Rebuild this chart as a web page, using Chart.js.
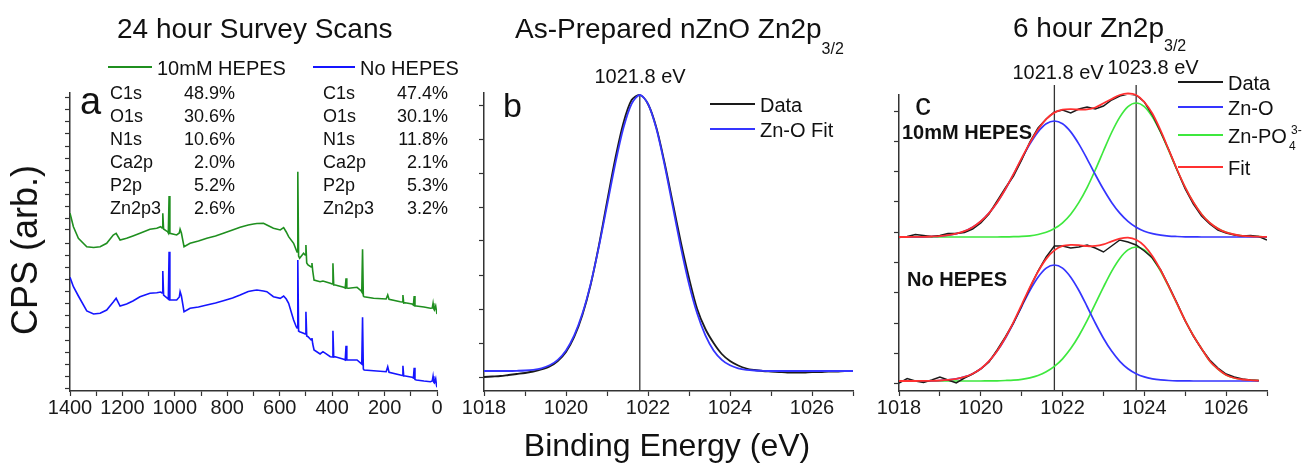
<!DOCTYPE html>
<html>
<head>
<meta charset="utf-8">
<script src="https://cdn.jsdelivr.net/npm/chart.js@4.4.1/dist/chart.umd.min.js"></script>
<style>
  body { margin: 0; background: #fff; font-family: "Liberation Sans", Arial, sans-serif; color: #111; }
  #wrap { position: relative; width: 1304px; height: 469px; overflow: hidden; }
  canvas { position: absolute; left: 0; top: 0; }
  .t { position: absolute; white-space: nowrap; line-height: 1; transform: translateY(-50%); }
  .c { transform: translate(-50%, -50%); }
  .r { transform: translate(-100%, -50%); }
  .title { font-size: 28px; }
  .leg { font-size: 20px; }
  .tab { font-size: 18px; }
  .sw { position: absolute; height: 2px; margin-top: -1px; }
  .b { font-weight: bold; }
</style>
</head>
<body>
<div id="wrap">
  <canvas id="chartA" width="1304" height="469"></canvas>
  <canvas id="chartB" width="1304" height="469"></canvas>
  <canvas id="chartC" width="1304" height="469"></canvas>

  <!-- titles -->
  <div class="t title" style="left:117px;top:29px">24 hour Survey Scans</div>
  <div class="t title" style="left:515px;top:29px">As-Prepared nZnO Zn2p<span style="font-size:16px;position:relative;top:16px">3/2</span></div>
  <div class="t title" style="left:1013px;top:28px">6 hour Zn2p<span style="font-size:16px;position:relative;top:14px">3/2</span></div>

  <!-- axis titles -->
  <div class="t" style="left:25px;top:250px;font-size:36px;transform:translate(-50%,-50%) rotate(-90deg)">CPS (arb.)</div>
  <div class="t c" style="left:667px;top:445px;font-size:32px">Binding Energy (eV)</div>

  <!-- panel a legend + table -->
  <div class="sw" style="left:108px;top:67px;width:44px;background:#1f8f1f"></div>
  <div class="t leg" style="left:157px;top:68px">10mM HEPES</div>
  <div class="sw" style="left:313px;top:67px;width:42px;background:#1515ff"></div>
  <div class="t leg" style="left:360px;top:68px">No HEPES</div>
  <div id="tableA"></div>
  <div class="t" style="left:80px;top:82px;font-size:38px;transform:none">a</div>

  <!-- panel b annotations -->
  <div class="t" style="left:503px;top:88px;font-size:34px;transform:none">b</div>
  <div class="t leg c" style="left:640px;top:76px">1021.8 eV</div>
  <div class="sw" style="left:710px;top:104px;width:45px;background:#1a1a1a"></div>
  <div class="t leg" style="left:760px;top:105px">Data</div>
  <div class="sw" style="left:710px;top:129px;width:45px;background:#3535ff"></div>
  <div class="t leg" style="left:760px;top:130px">Zn-O Fit</div>

  <!-- panel c annotations -->
  <div class="t" style="left:915px;top:88px;font-size:32px;transform:none">c</div>
  <div class="t leg c" style="left:1058px;top:72px">1021.8 eV</div>
  <div class="t leg c" style="left:1153px;top:67px">1023.8 eV</div>
  <div class="t leg b" style="left:902px;top:132px">10mM HEPES</div>
  <div class="t leg b" style="left:907px;top:279px">No HEPES</div>
  <div class="sw" style="left:1178px;top:82px;width:45px;background:#1a1a1a"></div>
  <div class="t leg" style="left:1228px;top:83px">Data</div>
  <div class="sw" style="left:1178px;top:107px;width:45px;background:#3535ff"></div>
  <div class="t leg" style="left:1228px;top:108px">Zn-O</div>
  <div class="sw" style="left:1178px;top:135px;width:45px;background:#3ee83e"></div>
  <div class="t leg" style="left:1228px;top:136px">Zn-PO</div>
  <div class="t" style="left:1289px;top:146px;font-size:12px">4</div>
  <div class="t" style="left:1291px;top:130px;font-size:12px">3-</div>
  <div class="sw" style="left:1178px;top:167px;width:45px;background:#ff3030"></div>
  <div class="t leg" style="left:1228px;top:168px">Fit</div>
</div>

<script>
// ---- panel a: survey scans (binding energy, eV) ----
const surveyEnergy = [
  1400, 1387, 1368, 1336, 1310, 1285, 1260, 1235, 1224, 1209,
  1184, 1160, 1133, 1095, 1069, 1054, 1049, 1046, 1043, 1028,
  1025, 1022, 1019, 993, 983, 980, 975, 965, 942, 910,
  878, 845, 815, 780, 751, 720, 700, 687, 662, 649,
  624, 598, 585, 575, 566, 547, 537, 534, 531, 528,
  524, 509, 503, 500, 497, 492, 480, 477, 474, 469,
  446, 435, 407, 400, 397, 394, 388, 356, 350, 347,
  344, 337, 305, 290, 287, 284, 281, 278, 242, 194,
  188, 183, 140, 133, 130, 127, 121, 95, 90, 87,
  84, 79, 50, 25, 18, 15, 12, 10, 5, 2,
  0
];
const survey10mM = [
  177.7, 164.3, 152.7, 144.3, 143.5, 144.3, 147.7, 156, 157.7, 151,
  152.7, 155, 157.7, 161.7, 162.7, 164.3, 163, 177.7, 162, 159.3,
  158, 195, 157.7, 156, 158, 161.7, 158, 144.3, 147.7, 150,
  152.7, 155, 157.7, 161, 163.7, 166, 167, 167.5, 167.7, 166,
  162.7, 161, 163.3, 159, 154.3, 147.7, 141, 139, 219.3, 135,
  132.7, 137.7, 136, 146, 128, 126, 124, 128, 120, 111,
  109.3, 110, 107.7, 107, 127.7, 106, 106, 103.7, 103, 112.7,
  103, 102.7, 103.7, 100.3, 99, 141.7, 95, 94.3, 92.7, 92,
  96, 91.7, 89.3, 89, 96, 88, 88.3, 87, 86, 95,
  85, 85, 84, 82.7, 83, 87.7, 82, 81, 85, 80,
  77
];
const surveyNoHepes = [
  113.7, 104.3, 95, 80, 77, 77.7, 81, 89, 92.7, 85,
  87, 90, 94.3, 97.7, 98.3, 99, 98, 120, 96, 92.7,
  92, 139.3, 91, 91, 94, 99.3, 95, 79.3, 82.7, 84,
  86, 88, 90.3, 93, 96, 99.5, 100.5, 101, 100, 99.3,
  94.3, 92.7, 95, 92, 87.7, 71, 64.3, 63, 131, 60,
  59.3, 57.7, 57, 79.3, 55, 54.3, 51, 53, 47, 41,
  37, 39.3, 34.3, 34, 60.3, 34, 34.3, 31.7, 31, 45.3,
  31, 31, 31, 27.7, 27, 73.7, 22, 21, 20.3, 19.3,
  24.3, 18.7, 16, 15.5, 25.3, 15, 15, 13.7, 13, 23.3,
  11.5, 11, 10, 9.3, 10, 14.7, 8.5, 8, 12.3, 6,
  3.7
];
const surveyTicksY = [3, 15, 27, 39, 51, 64, 76, 88, 100, 112, 124, 136, 148,
  161, 173, 185, 197, 209, 221, 233, 245, 258, 270, 282, 294];

// ---- panels b and c: Zn2p3/2 region ----
const znEnergy = [
  1018.0, 1018.2, 1018.4, 1018.6, 1018.8, 1019.0, 1019.2, 1019.4, 1019.6, 1019.8,
  1020.0, 1020.2, 1020.4, 1020.6, 1020.8, 1021.0, 1021.2, 1021.4, 1021.6, 1021.8,
  1022.0, 1022.2, 1022.4, 1022.6, 1022.8, 1023.0, 1023.2, 1023.4, 1023.6, 1023.8,
  1024.0, 1024.2, 1024.4, 1024.6, 1024.8, 1025.0, 1025.2, 1025.4, 1025.6, 1025.8,
  1026.0, 1026.2, 1026.4, 1026.6, 1026.8, 1027.0
];
const asPrepData = [
  14, 14.5, 15, 16, 17, 18, 19.5, 21.5, 24.5, 30,
  39, 54, 76, 106, 145, 189, 232, 268, 291, 296,
  287, 264, 229, 189, 149, 113, 82, 62, 48, 37,
  30, 25.5, 22.5, 21, 20, 19.5, 19, 18.5, 18.5, 18.5,
  19, 19, 19.5, 19.5, 20, 20
];
const asPrepFit = [
  20, 20, 20, 20, 20.2, 20.5, 21.2, 22.7, 25.7, 31.2,
  40.6, 55.6, 77.4, 106.9, 143.9, 185.3, 227, 262.9, 287.2, 296,
  287.2, 262.9, 227, 185.3, 143.9, 106.9, 77.4, 55.6, 40.6, 31.2,
  25.7, 22.7, 21.2, 20.5, 20.2, 20, 20, 20, 20, 20,
  20, 20, 20, 20, 20, 20
];
const asPrepTicksY = [14, 48, 82, 116, 150, 184, 218, 252, 286];
const asPrepPeaks = [1021.8];

const hepesData = [
  153.5, 154.5, 156.5, 155.5, 154.5, 155.5, 157.5, 157.5, 158.5, 162,
  168, 177, 190, 203, 215, 231, 249, 263, 272, 279,
  281, 278, 282, 284, 282, 285, 291, 295, 297, 296,
  289, 276, 259, 241, 221, 202, 187, 175, 167, 161,
  158, 156, 155, 155.5, 154.5, 151
];
const hepesZnO = [
  154, 154, 154.1, 154.2, 154.5, 154.9, 155.8, 157.3, 159.8, 163.8,
  169.7, 177.9, 188.6, 201.7, 216.5, 232.2, 246.9, 259.1, 267.2, 270,
  267.2, 259.1, 246.9, 232.2, 216.5, 201.7, 188.6, 177.9, 169.7, 163.8,
  159.8, 157.3, 155.8, 154.9, 154.5, 154.2, 154.1, 154, 154, 154,
  154, 154, 154, 154, 154, 154
];
const hepesZnPO4 = [
  154, 154, 154, 154, 154, 154, 154, 154, 154, 154,
  154, 154, 154, 154.1, 154.3, 154.6, 155.2, 156.5, 158.7, 162.4,
  168.2, 176.8, 188.6, 203.4, 221, 240, 258.5, 273.9, 284.4, 288,
  284.4, 273.9, 258.5, 240, 221, 203.4, 188.6, 176.8, 168.2, 162.4,
  158.7, 156.5, 155.2, 154.6, 154.3, 154.1
];
const hepesFit = [
  154, 154, 154.1, 154.2, 154.5, 154.9, 155.8, 157.3, 159.8, 163.8,
  169.7, 177.9, 188.6, 201.8, 216.8, 232.8, 248.1, 261.6, 271.9, 278.4,
  281.4, 281.9, 281.5, 281.6, 283.5, 287.7, 292, 296, 297.5, 296,
  289, 277.2, 260.3, 240.9, 221.5, 203.6, 188.7, 176.8, 168.2, 162.4,
  158.7, 156.5, 155.2, 154.6, 154.3, 154.1
];
const noHepesData = [
  8, 12.5, 10, 8.5, 11, 14, 11, 8, 13, 17,
  22, 29, 41, 54, 68, 85, 103, 120, 134, 145,
  145, 143, 144, 146, 143, 139, 145, 151, 149, 146,
  140, 133, 121, 105, 88, 70, 55, 42, 31, 23,
  17, 14, 12, 11, 10.5, null
];
const noHepesZnO = [
  10, 10, 10, 10.1, 10.2, 10.5, 11.1, 12.2, 14.1, 17.3,
  22.3, 29.7, 39.9, 52.8, 68, 84.5, 100.5, 113.8, 122.9, 126,
  122.9, 113.8, 100.5, 84.5, 68, 52.8, 39.9, 29.7, 22.3, 17.3,
  14.1, 12.2, 11.1, 10.5, 10.2, 10.1, 10, 10, 10, 10,
  10, 10, 10, 10, 10, null
];
const noHepesZnPO4 = [
  10, 10, 10, 10, 10, 10, 10, 10, 10, 10,
  10, 10.1, 10.2, 10.5, 10.9, 11.7, 13.2, 15.5, 19.2, 24.6,
  32.2, 42.4, 55.3, 70.3, 87.1, 103.9, 119.7, 132.6, 141.1, 144,
  141.1, 132.6, 119.7, 103.9, 87.1, 70.3, 55.3, 42.4, 30, 22,
  16, 13, 11.5, 10.8, 10.4, null
];
const noHepesFit = [
  10, 10, 10, 10.1, 10.2, 10.5, 11.1, 12.2, 14.1, 17.3,
  22.3, 29.8, 40.1, 53.3, 68.9, 86.2, 103.7, 119.3, 132.1, 140.6,
  145.1, 146.2, 145.8, 144.8, 145.1, 146.7, 149.6, 152.3, 153.4, 151.3,
  145.2, 134.8, 120.8, 104.4, 87.3, 70.4, 55.3, 42.4, 30, 22,
  16, 13, 11.5, 10.8, 10.4, null
];
const sixHourTicksY = [8, 38, 68, 99, 129, 159, 190, 220, 250, 280];
const sixHourPeaks = [1021.8, 1023.8];

const FONT = '"Liberation Sans", Arial, sans-serif';

function pts(xs, ys) {
  return xs.map((x, i) => ({ x: x, y: ys[i] })).filter(p => p.y != null);
}

function line(data, color, width, extra) {
  return Object.assign({
    data: data, borderColor: color, borderWidth: width,
    pointRadius: 0, fill: false, tension: 0
  }, extra || {});
}

function peakLines(peaks, top) {
  return peaks.map(e => line([{ x: e, y: 0 }, { x: e, y: top }], '#333', 1.3, { clip: false }));
}

function xAxis(min, max, step, every, reverse) {
  return {
    type: 'linear', min: min, max: max, reverse: !!reverse,
    ticks: {
      stepSize: step, autoSkip: false, maxRotation: 0, padding: 0,
      color: '#1a1a1a', font: { family: FONT, size: 20 },
      callback: v => (Math.round(v) % every === 0 ? String(v) : '')
    },
    grid: { drawOnChartArea: false, tickLength: 5, tickColor: '#333', tickWidth: 1.2 },
    border: { color: '#333', width: 1.5 }
  };
}

function yAxis(min, max, tickList) {
  return {
    type: 'linear', min: min, max: max,
    ticks: { display: false },
    afterBuildTicks: s => { s.ticks = tickList.map(v => ({ value: v })); },
    grid: { drawOnChartArea: false, tickLength: 5, tickColor: '#333', tickWidth: 1.2 },
    border: { color: '#333', width: 1.5 }
  };
}

function makeChart(id, datasets, x, y, padding) {
  return new Chart(document.getElementById(id), {
    type: 'line',
    data: { datasets: datasets },
    options: {
      responsive: false, animation: false, devicePixelRatio: 1,
      layout: { padding: padding },
      plugins: { legend: { display: false }, tooltip: { enabled: false } },
      scales: { x: x, y: y }
    }
  });
}

// percentage table of panel a
const elements = ['C1s', 'O1s', 'N1s', 'Ca2p', 'P2p', 'Zn2p3'];
const pct10mM = ['48.9%', '30.6%', '10.6%', '2.0%', '5.2%', '2.6%'];
const pctNoHepes = ['47.4%', '30.1%', '11.8%', '2.1%', '5.3%', '3.2%'];
let html = '';
elements.forEach((el, i) => {
  const y = 93 + i * 23;
  html += `<div class="t tab" style="left:110px;top:${y}px">${el}</div>`;
  html += `<div class="t tab r" style="left:235px;top:${y}px">${pct10mM[i]}</div>`;
  html += `<div class="t tab" style="left:323px;top:${y}px">${el}</div>`;
  html += `<div class="t tab r" style="left:448px;top:${y}px">${pctNoHepes[i]}</div>`;
});
document.getElementById('tableA').innerHTML = html;

makeChart('chartA', [
  line(pts(surveyEnergy, surveyNoHepes), '#1515ff', 1.6),
  line(pts(surveyEnergy, survey10mM), '#1f8f1f', 1.6)
], xAxis(0, 1400, 100, 200, true), yAxis(0, 298, surveyTicksY),
  { left: 65, right: 867, top: 93, bottom: 49 });

makeChart('chartB', [
  line(pts(znEnergy, asPrepFit), '#3535ff', 1.8, { tension: 0.3 }),
  line(pts(znEnergy, asPrepData), '#1a1a1a', 1.8, { tension: 0.3 })
].concat(peakLines(asPrepPeaks, 296)),
  xAxis(1018, 1027, 1, 2), yAxis(0, 298, asPrepTicksY),
  { left: 479, right: 451, top: 93, bottom: 49 });

makeChart('chartC', [
  line(pts(znEnergy, hepesFit), '#ff3030', 1.8, { tension: 0.3, clip: false }),
  line(pts(znEnergy, noHepesFit), '#ff3030', 1.8, { tension: 0.3 }),
  line(pts(znEnergy, hepesData), '#1a1a1a', 1.5),
  line(pts(znEnergy, noHepesData), '#1a1a1a', 1.5),
  line(pts(znEnergy, hepesZnO), '#3535ff', 1.7, { tension: 0.3 }),
  line(pts(znEnergy, noHepesZnO), '#3535ff', 1.7, { tension: 0.3 }),
  line(pts(znEnergy, hepesZnPO4), '#3ee83e', 1.7, { tension: 0.3 }),
  line(pts(znEnergy, noHepesZnPO4), '#3ee83e', 1.7, { tension: 0.3 })
].concat(peakLines(sixHourPeaks, 306)),
  xAxis(1018, 1027, 1, 2), yAxis(0, 296, sixHourTicksY),
  { left: 894, right: 37, top: 95, bottom: 49 });
</script>
</body>
</html>
